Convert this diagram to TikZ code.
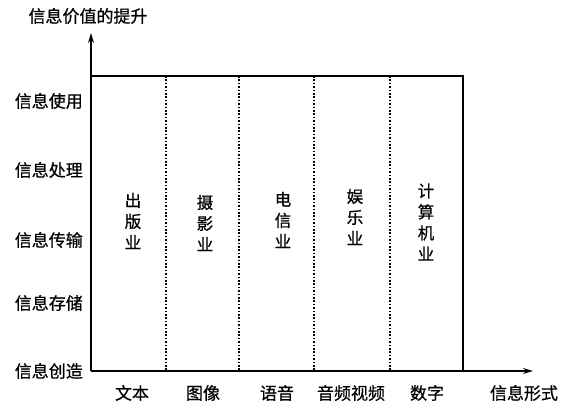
\documentclass[tikz,border=0pt]{standalone}
\usepackage{fontspec}
\newfontfamily\cnfont{Noto Sans CJK SC}[FakeBold=0.7]
\usetikzlibrary{arrows.meta}
\begin{document}
\begin{tikzpicture}[x=1pt,y=-1pt,
  lbl/.style={font=\fontsize{17}{20}\cnfont, inner sep=0pt},
  col/.style={font=\fontsize{16.5}{21}\cnfont, inner sep=0pt, align=center},
  axis/.style={line width=1.3pt, -{Stealth[length=10pt,width=6pt]}},
  frame/.style={line width=1.2pt},
  sep/.style={line width=1.1pt, dash pattern=on 1.6pt off 1.8pt}]
\useasboundingbox (0,0) rectangle (565,409);
\coordinate (O) at (91,371);
\coordinate (ytip) at (91,33);
\coordinate (xtip) at (533,371);
\coordinate (TL) at (91,76);
\coordinate (TR) at (463,76);
\coordinate (BR) at (463,371);
\draw[axis] (O) -- (ytip);
\draw[axis] (O) -- (xtip);
\draw[frame] (TL) -- (TR) -- (BR);
\foreach \x [count=\i] in {166,239,314,390}{
  \coordinate (t\i) at (\x,76);
  \coordinate (b\i) at (\x,371);
  \draw[sep] (t\i) -- (b\i);
}
\node[lbl] (ylab) at (88,16) {信息价值的提升};
\node[lbl, anchor=east] (l1) at (83,101) {信息使用};
\node[lbl, anchor=east] (l2) at (83,170) {信息处理};
\node[lbl, anchor=east] (l3) at (83,240) {信息传输};
\node[lbl, anchor=east] (l4) at (83,303) {信息存储};
\node[lbl, anchor=east] (l5) at (83,371) {信息创造};
\node[lbl] (f1) at (132,393) {文本};
\node[lbl] (f2) at (203,393) {图像};
\node[lbl] (f3) at (277,393) {语音};
\node[lbl] (f4) at (351,393) {音频视频};
\node[lbl] (f5) at (427,393) {数字};
\node[lbl] (fx) at (524,393) {信息形式};
\node[col] (c1) at (133,221) {出\\版\\业};
\node[col] (c2) at (205,223) {摄\\影\\业};
\node[col] (c3) at (283,220) {电\\信\\业};
\node[col] (c4) at (355,217) {娱\\乐\\业};
\node[col] (c5) at (426,222) {计\\算\\机\\业};
\end{tikzpicture}
\end{document}
